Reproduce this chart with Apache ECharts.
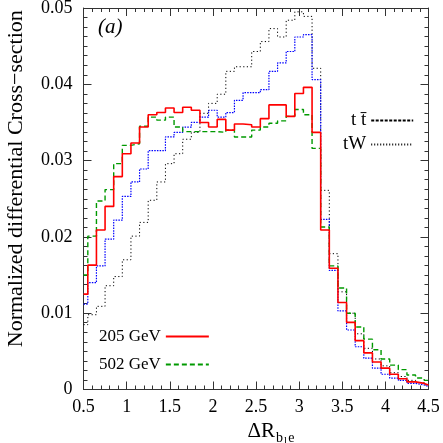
<!DOCTYPE html>
<html>
<head>
<meta charset="utf-8">
<script src="https://cdn.jsdelivr.net/npm/echarts@6/dist/echarts.min.js"></script>
<style>
  html, body { margin: 0; padding: 0; background: #fff; }
  #chart { width: 443px; height: 443px; }
</style>
</head>
<body>
<div id="chart"></div>
<script>
// bin centres (width 0.1); first and last bins are cut by the axis range
var binCenters = [0.5, 0.6, 0.7, 0.8, 0.9, 1.0, 1.1, 1.2, 1.3, 1.4, 1.5, 1.6, 1.7, 1.8, 1.9, 2.0,
  2.1, 2.2, 2.3, 2.4, 2.5, 2.6, 2.7, 2.8, 2.9, 3.0, 3.1, 3.2, 3.3, 3.4, 3.5, 3.6, 3.7, 3.8, 3.9, 4.0,
  4.1, 4.2, 4.3, 4.4, 4.5]

var red205 = [0.0125, 0.0163, 0.0209, 0.0240, 0.0279, 0.0309,
  0.0323, 0.0344, 0.0360, 0.0363, 0.0369, 0.0363, 0.0370, 0.0366, 0.0350, 0.0344,
  0.0354, 0.0340, 0.0348, 0.0347, 0.0344, 0.0355, 0.0373, 0.0373, 0.0358, 0.0388,
  0.0396, 0.0337, 0.0209, 0.0159, 0.0114, 0.0088, 0.0064, 0.0048, 0.0036, 0.0028,
  0.0020, 0.0014, 0.0010, 0.0008, 0.0006]

var green502 = [0.0150, 0.0201, 0.0247, 0.0262, 0.0296, 0.0320,
  0.0322, 0.0345, 0.0357, 0.0353, 0.0357, 0.0344, 0.0338, 0.0338, 0.0338, 0.0338,
  0.0337, 0.0340, 0.0331, 0.0331, 0.0340, 0.0344, 0.0349, 0.0352, 0.0358, 0.0367,
  0.0360, 0.0316, 0.0213, 0.0162, 0.0133, 0.0100, 0.0082, 0.0066, 0.0052, 0.0040,
  0.0032, 0.0026, 0.0019, 0.0015, 0.0012]

var blueTT = [0.0112, 0.0140, 0.0162, 0.0197, 0.0222, 0.0253,
  0.0272, 0.0289, 0.0313, 0.0313, 0.0331, 0.0337, 0.0344, 0.0350, 0.0357, 0.0366,
  0.0357, 0.0363, 0.0379, 0.0389, 0.0389, 0.0393, 0.0417, 0.0428, 0.0443, 0.0462,
  0.0465, 0.0406, 0.0223, 0.0156, 0.0103, 0.0078, 0.0056, 0.0041, 0.0028, 0.0020,
  0.0015, 0.0012, 0.0008, 0.0006, 0.0004]

var blackTW = [0.0085, 0.0098, 0.0109, 0.0136, 0.0148, 0.0170,
  0.0201, 0.0219, 0.0248, 0.0272, 0.0296, 0.0309, 0.0328, 0.0337, 0.0362, 0.0375,
  0.0387, 0.0417, 0.0423, 0.0423, 0.0443, 0.0456, 0.0473, 0.0462, 0.0484, 0.0495,
  0.0489, 0.0421, 0.0261, 0.0178, 0.0128, 0.0100, 0.0073, 0.0054, 0.0040, 0.0031,
  0.0022, 0.0017, 0.0012, 0.0009, 0.0006]

var xMin = 0.5
var xMax = 4.5
var halfBin = 0.05
var serif = 'Liberation Serif'

// turn bin contents into step points at the left edge of each bin
function histo (values) {
  var pts = binCenters.map(function (c, i) {
    return [Math.max(xMin, c - halfBin), values[i]]
  })
  pts.push([xMax, values[values.length - 1]])
  return pts
}

var axisColor = '#333'

function frameAxis (extra) {
  var base = {
    axisLine: { show: true, onZero: false, lineStyle: { color: axisColor, width: 1 } },
    axisTick: { show: true, inside: true, length: 8, lineStyle: { color: axisColor } },
    minorTick: { show: true, length: 4, lineStyle: { color: axisColor } },
    splitLine: { show: false },
    minorSplitLine: { show: false }
  }
  return Object.assign(base, extra)
}

var myChart = echarts.init(document.getElementById('chart'))

var option = {
  animation: false,
  backgroundColor: '#fff',
  title: {
    text: '(a)',
    left: 93,
    top: 12,
    textStyle: { fontFamily: serif, fontStyle: 'italic', fontWeight: 'normal', fontSize: 21, color: '#000' }
  },
  grid: { left: 83.5, right: 14.5, top: 8, bottom: 53.5, containLabel: false, outerBoundsMode: 'none' },
  legend: [
    {
      data: ['205 GeV', '502 GeV'],
      orient: 'vertical',
      left: 94,
      top: 323,
      align: 'right',
      itemWidth: 43,
      itemHeight: 14,
      itemGap: 11,
      selectedMode: false,
      itemStyle: { opacity: 0 },
      textStyle: { fontFamily: serif, fontSize: 17, color: '#000', width: 70 }
    },
    {
      data: ['t t\u0304', 'tW'],
      orient: 'vertical',
      left: 338,
      top: 106,
      align: 'right',
      itemWidth: 42,
      itemHeight: 14,
      itemGap: 5,
      selectedMode: false,
      itemStyle: { opacity: 0 },
      textStyle: { fontFamily: serif, fontSize: 19, color: '#000', width: 30, align: 'right' }
    }
  ],
  xAxis: [
    frameAxis({
      type: 'value',
      position: 'bottom',
      min: xMin,
      max: xMax,
      interval: 0.5,
      minorTick: { show: true, splitNumber: 5, length: 4, lineStyle: { color: axisColor } },
      axisLabel: { fontFamily: serif, fontSize: 18, color: '#000', margin: 9, showMaxLabel: true, showMinLabel: true },
      name: '{a|\u0394R}{s|b}{ss|l}{s|e}',
      nameLocation: 'middle',
      nameGap: 24,
      nameTextStyle: {
        padding: [0, 0, 0, 30],
        rich: {
          a: { fontFamily: serif, fontSize: 21, color: '#000' },
          s: { fontFamily: serif, fontSize: 14, color: '#000', padding: [12, 0, 0, 1] },
          ss: { fontFamily: serif, fontSize: 11, color: '#000', padding: [18, 0, 0, 1] }
        }
      }
    }),
    frameAxis({
      type: 'value',
      position: 'top',
      min: xMin,
      max: xMax,
      interval: 0.5,
      minorTick: { show: true, splitNumber: 5, length: 4, lineStyle: { color: axisColor } },
      axisLabel: { show: false }
    })
  ],
  yAxis: [
    frameAxis({
      type: 'value',
      position: 'left',
      min: 0,
      max: 0.05,
      interval: 0.01,
      minorTick: { show: true, splitNumber: 8, length: 4, lineStyle: { color: axisColor } },
      axisLabel: { fontFamily: serif, fontSize: 18, color: '#000', margin: 11 },
      name: 'Normalized differential Cross\u2212section',
      nameLocation: 'middle',
      nameGap: 56,
      nameTextStyle: { fontFamily: serif, fontSize: 22, color: '#000', padding: [0, 0, 0, 40] }
    }),
    frameAxis({
      type: 'value',
      position: 'right',
      min: 0,
      max: 0.05,
      interval: 0.01,
      minorTick: { show: true, splitNumber: 8, length: 4, lineStyle: { color: axisColor } },
      axisLabel: { show: false }
    })
  ],
  series: [
    {
      name: 'tW hist',
      type: 'line',
      step: 'end',
      symbol: 'none',
      data: histo(blackTW),
      lineStyle: { color: '#000', width: 1, type: [1.2, 2.4] }
    },
    {
      name: 'tt hist',
      type: 'line',
      step: 'end',
      symbol: 'none',
      data: histo(blueTT),
      lineStyle: { color: '#0000ff', width: 1.2, type: [1.5, 1.2] }
    },
    {
      name: '502 GeV',
      type: 'line',
      step: 'end',
      symbol: 'none',
      data: histo(green502),
      itemStyle: { color: '#009900' },
      lineStyle: { color: '#009900', width: 1.4, type: [5, 3] }
    },
    {
      name: '205 GeV',
      type: 'line',
      step: 'end',
      symbol: 'none',
      data: histo(red205),
      itemStyle: { color: '#ff0000' },
      lineStyle: { color: '#ff0000', width: 1.6 }
    },
    {
      name: 't t\u0304',
      type: 'line',
      symbol: 'none',
      data: [],
      itemStyle: { color: '#000' },
      lineStyle: { color: '#000', width: 1, type: [3, 1.5] }
    },
    {
      name: 'tW',
      type: 'line',
      symbol: 'none',
      data: [],
      itemStyle: { color: '#000' },
      lineStyle: { color: '#000', width: 1, type: [1, 2] }
    }
  ]
}
myChart.setOption(option)
</script>
</body>
</html>
